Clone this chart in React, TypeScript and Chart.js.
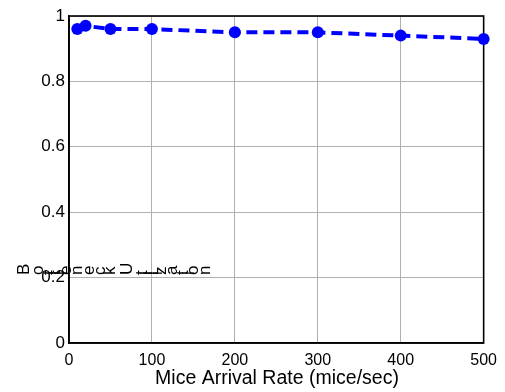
import React, { useEffect, useRef } from "react";
import { Chart, registerables } from "chart.js";

Chart.register(...registerables);

const arrivalRates = [10, 20, 50, 100, 200, 300, 400, 500];
const utilization = [0.96, 0.97, 0.96, 0.96, 0.95, 0.95, 0.94, 0.93];
const xTickValues = [0, 100, 200, 300, 400, 500];
const yTickValues = [0, 0.2, 0.4, 0.6, 0.8, 1];
const xTitle = "Mice Arrival Rate (mice/sec)";
const yTitle = "Bottleneck Utilization";

const FONT = "'Liberation Sans', Arial, Helvetica, sans-serif";

const decorPlugin = {
  id: "decor",
  beforeDatasetsDraw(chart: any) {
    const { ctx, chartArea } = chart;
    ctx.save();
    ctx.strokeStyle = "#000";
    ctx.lineWidth = 1.6;
    ctx.strokeRect(chartArea.left, chartArea.top, chartArea.right - chartArea.left, chartArea.bottom - chartArea.top);
    ctx.restore();
  },
  afterDraw(chart: any) {
    const { ctx } = chart;
    ctx.save();
    ctx.fillStyle = "#000";
    ctx.font = `19.5px ${FONT}`;
    ctx.textAlign = "center";
    ctx.textBaseline = "alphabetic";
    ctx.fillText(xTitle, 277, 384);

    // y label: each glyph rotated in place, laid out horizontally
    ctx.font = `17px ${FONT}`;
    ctx.textAlign = "left";
    let adv = 0;
    const spread = 1.22;
    const x0 = 29;
    const y0 = 275;
    for (const ch of yTitle) {
      ctx.save();
      ctx.translate(x0 + adv * spread, y0);
      ctx.rotate(-Math.PI / 2);
      ctx.fillText(ch, 0, 0);
      ctx.restore();
      adv += ctx.measureText(ch).width;
    }
    ctx.restore();
  },
};

export default function App() {
  const ref = useRef<HTMLCanvasElement | null>(null);

  useEffect(() => {
    if (!ref.current) return;
    const chart = new Chart(ref.current, {
      type: "line",
      data: {
        datasets: [
          {
            data: arrivalRates.map((x, i) => ({ x, y: utilization[i] })),
            borderColor: "#0000ff",
            backgroundColor: "#0000ff",
            borderWidth: 4,
            borderDash: [11, 6],
            pointRadius: 6,
            pointHoverRadius: 6,
            pointBackgroundColor: "#0000ff",
            pointBorderWidth: 0,
            tension: 0,
            clip: false as any,
          },
        ],
      },
      options: {
        animation: false,
        responsive: false,
        maintainAspectRatio: false,
        layout: { padding: { top: 16, right: 19, left: 0, bottom: 0 } },
        plugins: {
          legend: { display: false },
          tooltip: { enabled: false },
        },
        scales: {
          x: {
            type: "linear",
            min: 0,
            max: 500,
            afterBuildTicks: (axis: any) => {
              axis.ticks = xTickValues.map((v) => ({ value: v }));
            },
            afterFit: (axis: any) => {
              axis.height = 392 - 343;
            },
            grid: { color: "#b0b0b0", lineWidth: 1, drawTicks: false },
            border: { display: true, color: "#000", width: 1.6 },
            ticks: {
              color: "#000",
              font: { family: FONT, size: 16 },
              padding: 8,
              maxRotation: 0,
            },
          },
          y: {
            type: "linear",
            min: 0,
            max: 1,
            afterBuildTicks: (axis: any) => {
              axis.ticks = yTickValues.map((v) => ({ value: v }));
            },
            afterFit: (axis: any) => {
              axis.width = 69;
            },
            grid: { color: "#b0b0b0", lineWidth: 1, drawTicks: false },
            border: { display: true, color: "#000", width: 1.6 },
            ticks: {
              color: "#000",
              font: { family: FONT, size: 17 },
              padding: 4,
              callback: (v: any) => String(Math.round(Number(v) * 10) / 10),
            },
          },
        },
      },
      plugins: [decorPlugin],
    });
    return () => chart.destroy();
  }, []);

  return (
    <div style={{ position: "fixed", left: 0, top: 0, width: 505, height: 392, background: "#fff" }}>
      <canvas ref={ref} width={505} height={392} style={{ width: 505, height: 392, display: "block" }} />
    </div>
  );
}
